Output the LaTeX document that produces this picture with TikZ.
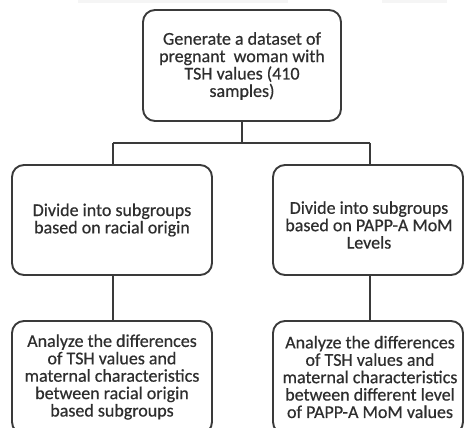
\documentclass[tikz,border=0pt]{standalone}
\usepackage{fontspec}
\setmainfont{Carlito}[FakeBold=0.5]
\definecolor{linec}{HTML}{3A3A3A}
\definecolor{textc}{HTML}{2E2E2E}
\begin{document}
\begin{tikzpicture}[x=1pt,y=-1pt,
  box/.style={draw=linec, line width=1.9pt, rounded corners=12pt, fill=white},
  txt/.style={text=textc, align=center, font=\fontsize{18}{17.4}\selectfont, inner sep=0pt},
  conn/.style={draw=linec, line width=1.9pt}]
\useasboundingbox (0,0) rectangle (467,428);
\fill[gray!8] (78,0) rectangle (288,3);
\fill[gray!8] (382,0) rectangle (447,3);
% boxes
\draw[box] (143,10) rectangle (341,121);
\draw[box] (12,165) rectangle (212,275);
\draw[box] (273,165) rectangle (463,275);
\draw[box] (12,321) rectangle (212,434);
\draw[box] (273,321) rectangle (463,434);
% named anchors
\coordinate (topb) at (242,121);
\coordinate (split) at (242,143);
\coordinate (la) at (113,143);
\coordinate (ra) at (370,143);
\coordinate (l2t) at (113,165);
\coordinate (r2t) at (370,165);
\coordinate (l2b) at (113,275);
\coordinate (r2b) at (370,275);
\coordinate (l3t) at (113,321);
\coordinate (r3t) at (370,321);
% texts
\node[txt] (t1) at (242,66) {Generate a dataset of\\pregnant\ \ woman with\\TSH values (410\\samples)};
\node[txt] (t2) at (112,220) {Divide into subgroups\\based on racial origin};
\node[txt] (t3) at (369,225) {Divide into subgroups\\based on PAPP-A MoM\\Levels};
\node[txt] (t4) at (112,377) {Analyze the differences\\of TSH values and\\maternal characteristics\\between racial origin\\based subgroups};
\node[txt] (t5) at (370,377) {Analyze the differences\\of TSH values and\\maternal characteristics\\between different level\\of PAPP-A MoM values};
% connectors
\draw[conn] (topb) -- (split);
\draw[conn] (la) -- (ra);
\draw[conn] (la) -- (l2t);
\draw[conn] (ra) -- (r2t);
\draw[conn] (l2b) -- (l3t);
\draw[conn] (r2b) -- (r3t);
\end{tikzpicture}
\end{document}
